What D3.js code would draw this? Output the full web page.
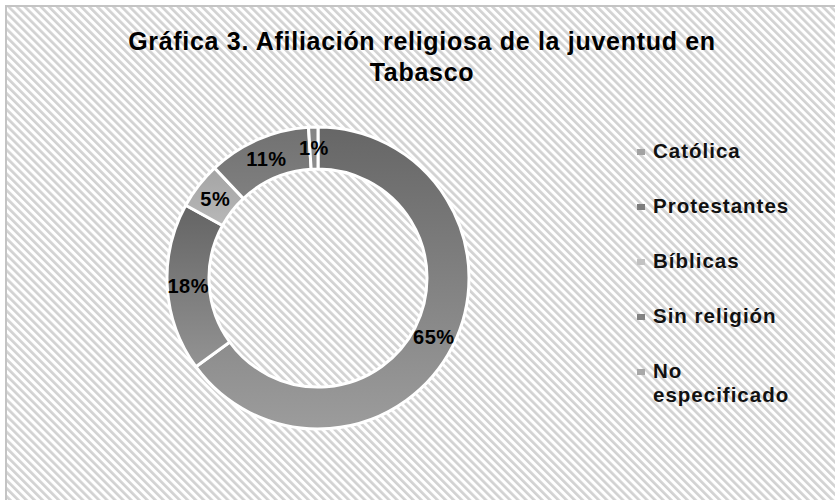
<!DOCTYPE html>
<html>
<head>
<meta charset="utf-8">
<script src="https://cdn.jsdelivr.net/npm/d3@7"></script>
<style>
  body { margin: 0; background: #fff; }
  text { font-family: "Liberation Sans", Arial, sans-serif; font-weight: bold; }
</style>
</head>
<body>
<div class="chart"></div>
<script>
// data
const categories = ["Católica", "Protestantes", "Bíblicas", "Sin religión", "No especificado"]
const shares = [65, 18, 5, 11, 1]
const pctLabels = ["65%", "18%", "5%", "11%", "1%"]
const titleLines = ["Gráfica 3. Afiliación religiosa de la juventud en", "Tabasco"]

// gray tones (top -> bottom of each slice), legend swatches
const sliceTop = ["#666666", "#646464", "#a4a4a4", "#717171", "#858585"]
const sliceBottom = ["#9c9c9c", "#939393", "#b8b8b8", "#808080", "#8c8c8c"]
const swatch = ["#a2a2a2", "#7c7c7c", "#c2c2c2", "#828282", "#a8a8a8"]

async function drawDonut() {

    let dimensions = {
        width: 835,
        height: 500,
        cx: 318,
        cy: 278,
        outer: 151,
        inner: 109,
    }

    const wrapper = d3.select(".chart")
        .append("svg")
        .attr("width", dimensions.width)
        .attr("height", dimensions.height)

    const defs = wrapper.append("defs")

    // diagonal hatched background
    const pattern = defs.append("pattern")
        .attr("id", "hatch")
        .attr("patternUnits", "userSpaceOnUse")
        .attr("width", 5.7)
        .attr("height", 5.7)
        .attr("patternTransform", "rotate(-45)")
    pattern.append("rect")
        .attr("width", 5.7).attr("height", 5.7)
        .attr("fill", "#ffffff")
    pattern.append("rect")
        .attr("width", 2.7).attr("height", 5.7)
        .attr("fill", "#d2d2d2")

    sliceTop.forEach((c, i) => {
        const g = defs.append("linearGradient")
            .attr("id", "grad" + i)
            .attr("x1", 0).attr("y1", 0)
            .attr("x2", 0).attr("y2", 1)
        g.append("stop").attr("offset", "0%").attr("stop-color", c)
        g.append("stop").attr("offset", "100%").attr("stop-color", sliceBottom[i])
    })

    wrapper.append("rect")
        .attr("x", 0).attr("y", 0)
        .attr("width", dimensions.width).attr("height", dimensions.height)
        .attr("fill", "#ffffff")

    wrapper.append("rect")
        .attr("x", 6).attr("y", 6)
        .attr("width", dimensions.width + 10).attr("height", dimensions.height + 10)
        .attr("fill", "url(#hatch)")
        .attr("stroke", "#c4c4c4")
        .attr("stroke-width", 2)

    // title
    wrapper.append("g")
        .selectAll("text")
        .data(titleLines)
        .join("text")
        .attr("x", 422)
        .attr("y", (d, i) => 50 + i * 31)
        .attr("text-anchor", "middle")
        .style("font-size", "25px")
        .style("letter-spacing", "0.7px")
        .attr("fill", "#000")
        .text(d => d)

    const data = categories.map((c, i) => ({ name: c, value: shares[i], label: pctLabels[i], idx: i }))

    const pie = d3.pie()
        .value(d => d.value)
        .sort(null)

    const arc = d3.arc()
        .innerRadius(dimensions.inner)
        .outerRadius(dimensions.outer)

    const arcs = pie(data)

    const bounds = wrapper.append("g")
        .attr("transform", `translate(${dimensions.cx}, ${dimensions.cy})`)

    bounds.selectAll("path")
        .data(arcs)
        .join("path")
        .attr("d", arc)
        .attr("fill", d => `url(#grad${d.data.idx})`)
        .attr("stroke", "#ffffff")
        .attr("stroke-width", 3)
        .attr("stroke-linejoin", "round")

    bounds.selectAll(".pct")
        .data(arcs)
        .join("text")
        .attr("class", "pct")
        .attr("x", d => arc.centroid(d)[0])
        .attr("y", d => arc.centroid(d)[1])
        .attr("dy", "0.36em")
        .attr("text-anchor", "middle")
        .style("font-size", "20px")
        .style("letter-spacing", "0.5px")
        .attr("fill", "#000")
        .text(d => d.data.label)

    // legend
    const legendY = d3.scalePoint()
        .domain(categories)
        .range([158, 378])

    const legend = wrapper.append("g")
        .selectAll("g")
        .data(data)
        .join("g")
        .attr("transform", d => `translate(637, ${legendY(d.name)})`)

    legend.append("rect")
        .attr("x", 0)
        .attr("y", -9)
        .attr("width", 8)
        .attr("height", 6)
        .attr("fill", d => swatch[d.idx])

    legend.append("text")
        .attr("x", 16)
        .attr("y", 0)
        .style("font-size", "20.5px")
        .style("letter-spacing", "1px")
        .attr("fill", "#111")
        .each(function(d) {
            const words = d.name === "No especificado" ? ["No", "especificado"] : [d.name]
            d3.select(this).selectAll("tspan")
                .data(words)
                .join("tspan")
                .attr("x", 16)
                .attr("dy", (w, i) => i === 0 ? 0 : 24)
                .text(w => w)
        })
}

drawDonut()
</script>
</body>
</html>
